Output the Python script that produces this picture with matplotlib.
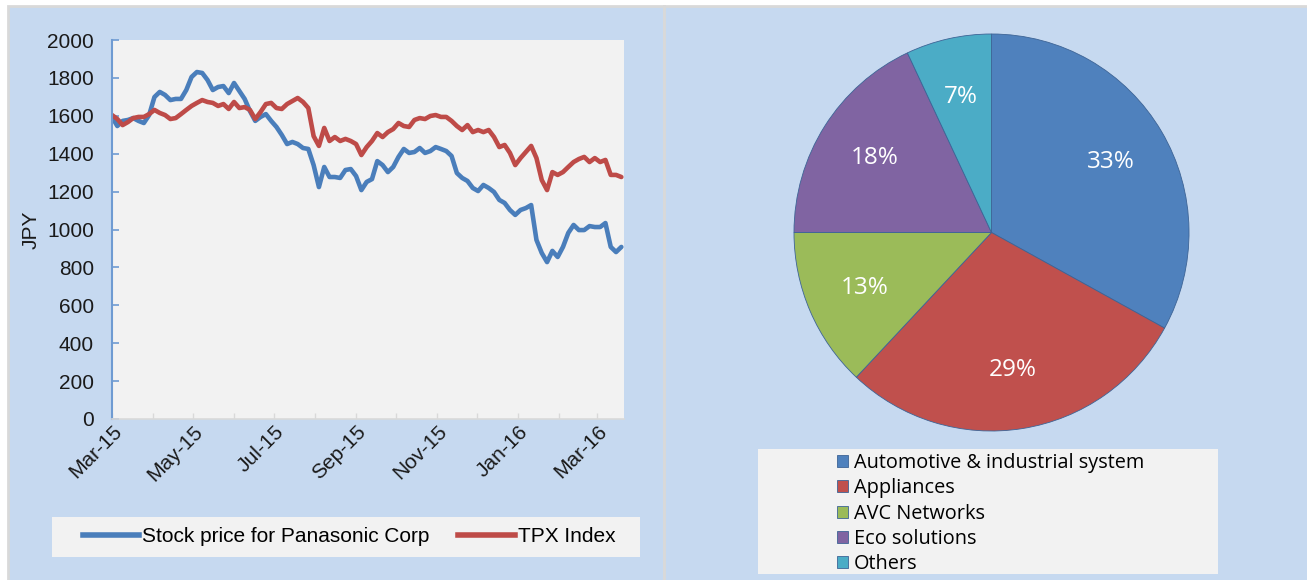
import matplotlib
matplotlib.use("Agg")
import matplotlib.pyplot as plt
import matplotlib.dates as mdates
from matplotlib.patches import Rectangle
from matplotlib.lines import Line2D
import pandas as pd

# ---------------- data ----------------
dates = pd.date_range("2015-03-01", periods=97, freq="4D")
panasonic = [1594, 1546, 1573, 1578, 1588, 1573, 1562, 1604, 1699, 1726,
             1710, 1683, 1689, 1689, 1736, 1805, 1831, 1826, 1789, 1736,
             1752, 1757, 1720, 1773, 1731, 1689, 1625, 1573, 1594, 1609,
             1573, 1541, 1499, 1451, 1462, 1451, 1430, 1425, 1340, 1224,
             1330, 1277, 1277, 1272, 1314, 1319, 1282, 1208, 1251, 1266,
             1361, 1340, 1303, 1330, 1383, 1425, 1404, 1409, 1430, 1404,
             1414, 1435, 1425, 1414, 1388, 1298, 1272, 1256, 1219, 1203,
             1235, 1219, 1198, 1156, 1140, 1103, 1077, 1103, 1113, 1129,
             945, 876, 828, 887, 855, 908, 982, 1024, 997, 997,
             1018, 1013, 1013, 1034, 908, 881, 908]
tpx = [1604, 1583, 1551, 1567, 1588, 1594, 1594, 1609, 1631, 1615,
       1604, 1583, 1588, 1609, 1631, 1652, 1668, 1683, 1673, 1668,
       1652, 1662, 1636, 1673, 1641, 1646, 1631, 1583, 1620, 1662,
       1668, 1641, 1636, 1662, 1678, 1694, 1673, 1641, 1493, 1441,
       1536, 1467, 1488, 1467, 1478, 1467, 1451, 1393, 1435, 1467,
       1509, 1488, 1514, 1530, 1562, 1546, 1541, 1578, 1588, 1583,
       1599, 1604, 1594, 1594, 1573, 1546, 1525, 1551, 1514, 1525,
       1514, 1525, 1488, 1435, 1446, 1404, 1340, 1377, 1409, 1441,
       1377, 1261, 1208, 1303, 1288, 1303, 1330, 1356, 1372, 1383,
       1356, 1377, 1356, 1367, 1288, 1288, 1277]
series_labels = ["Stock price for Panasonic Corp", "TPX Index"]
y_ticks = [0, 200, 400, 600, 800, 1000, 1200, 1400, 1600, 1800, 2000]

segments = ["Automotive & industrial system", "Appliances", "AVC Networks",
            "Eco solutions", "Others"]
shares = [33, 29, 13, 18, 7]

# ---------------- style ----------------
W, H = 1307, 580
BG = "#c6d9f0"
PLOT_BG = "#f2f2f2"
BLUE = "#4a7ebb"
RED = "#be4b48"
pie_colors = ["#4f81bd", "#c0504d", "#9bbb59", "#8064a2", "#4bacc6"]

def fx(x):
    return x / W

def fy(y):
    return 1 - y / H

def rect(x0, y0, x1, y1, **kw):
    return Rectangle((fx(x0), fy(y1)), fx(x1) - fx(x0), fy(y0) - fy(y1),
                     transform=fig.transFigure, **kw)

fig = plt.figure(figsize=(W / 100, H / 100), dpi=100, facecolor="white")

# panel backgrounds
fig.patches.append(rect(8, 6, 664, 582, facecolor=BG, edgecolor="#d9d9d9", lw=2, zorder=-10))
fig.patches.append(rect(664, 6, 1310, 582, facecolor=BG, edgecolor="#d9d9d9", lw=2, zorder=-10))
# legend boxes
fig.patches.append(rect(52, 517, 640, 557, facecolor=PLOT_BG, edgecolor="none", zorder=-5))
fig.patches.append(rect(758, 449, 1218, 574, facecolor=PLOT_BG, edgecolor="none", zorder=-5))

FONT = ["Liberation Sans", "DejaVu Sans"]
PIEFONT = ["Open Sans", "DejaVu Sans"]

# ---------------- line chart ----------------
ax = fig.add_axes([fx(112), fy(419), fx(624) - fx(112), fy(40) - fy(419)])
ax.set_facecolor(PLOT_BG)
ax.plot(dates, panasonic, color=BLUE, lw=3.3, solid_joinstyle="round",
        solid_capstyle="round", label=series_labels[0])
ax.plot(dates, tpx, color=RED, lw=3.3, solid_joinstyle="round",
        solid_capstyle="round", label=series_labels[1])
ax.set_ylim(0, 2000)
ax.set_xlim(pd.Timestamp("2015-03-01"), pd.Timestamp("2016-03-21"))
ax.set_yticks(y_ticks)
ax.xaxis.set_major_locator(mdates.MonthLocator(bymonth=[1, 3, 5, 7, 9, 11]))
ax.xaxis.set_minor_locator(mdates.MonthLocator())
ax.xaxis.set_major_formatter(mdates.DateFormatter("%b-%y"))
for s in ["top", "right"]:
    ax.spines[s].set_visible(False)
ax.spines["left"].set_color("#6f9bd2")
ax.spines["left"].set_linewidth(1.5)
ax.spines["bottom"].set_color("#d9d9d9")
ax.spines["bottom"].set_linewidth(1.2)
ax.tick_params(axis="y", direction="in", length=5, width=1.2, color="#6f9bd2",
               labelsize=15, pad=13, labelcolor="#1a1a1a")
ax.tick_params(axis="x", which="both", direction="in", length=4, width=1,
               color="#d9d9d9", labelsize=15, pad=2, labelcolor="#1a1a1a")
for lab in ax.get_yticklabels():
    lab.set_family(FONT)
for lab in ax.get_xticklabels():
    lab.set_family(FONT)
    lab.set_rotation(45)
    lab.set_ha("right")
    lab.set_va("top")
    lab.set_rotation_mode("anchor")
ax.set_ylabel("JPY", fontsize=15, family=FONT, labelpad=5, color="#1a1a1a")

handles = [Line2D([], [], color=BLUE, lw=4), Line2D([], [], color=RED, lw=4)]
fig.legend(handles, series_labels, loc="center",
           bbox_to_anchor=(fx(349), fy(537)), ncol=2, frameon=False,
           prop={"family": FONT, "size": 15}, handlelength=2.7,
           handletextpad=0.15, columnspacing=1.4, borderpad=0)

# ---------------- pie chart ----------------
ax2 = fig.add_axes([fx(793), fy(432), fx(1190) - fx(793), fy(33) - fy(432)])
ax2.set_facecolor(PLOT_BG)
wedges, texts, autotexts = ax2.pie(
    shares, colors=pie_colors, startangle=90, counterclock=False,
    autopct="%d%%", pctdistance=0.7,
    wedgeprops={"edgecolor": "#3d6496", "linewidth": 0.6},
    textprops={"color": "white", "fontsize": 17.5, "family": PIEFONT})
ax2.set_xlim(-1.005, 1.005)
ax2.set_ylim(-1.005, 1.005)
ax2.set_aspect("auto")
ax2.set_xticks([])
ax2.set_yticks([])
for s in ax2.spines.values():
    s.set_visible(False)

fig.legend(wedges, segments, loc="upper left",
           bbox_to_anchor=(fx(837), fy(453)), frameon=False,
           prop={"family": PIEFONT, "size": 14.3},
           handlelength=0.55, handleheight=0.55, handletextpad=0.3,
           labelspacing=0.27, borderpad=0, borderaxespad=0)

fig.savefig("out.png", dpi=100, facecolor=fig.get_facecolor())
